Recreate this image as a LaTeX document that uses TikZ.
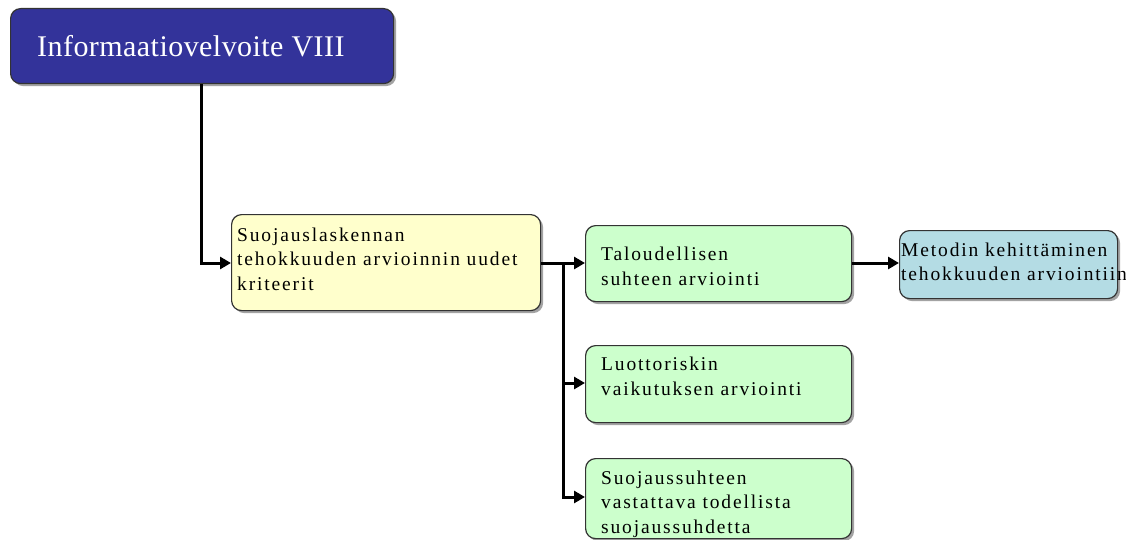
\documentclass[tikz,border=0pt]{standalone}
\usepackage{fontspec}
\setmainfont{Liberation Serif}
\newfontfamily\bodyfont[LetterSpace=9.5]{Liberation Serif}
\newfontfamily\titlefont[LetterSpace=1.5]{Liberation Serif}
\usetikzlibrary{arrows.meta,shadows}
\definecolor{navybox}{HTML}{33339A}
\definecolor{yellowbox}{HTML}{FFFFCC}
\definecolor{greenbox}{HTML}{CCFFCC}
\definecolor{tealbox}{HTML}{B4DCE4}
\tikzset{
  card/.style={draw=black!80, line width=1.2pt, rounded corners=10pt,
    drop shadow={shadow xshift=2.5pt, shadow yshift=-2.5pt, fill=black!45, opacity=0.8},
    inner sep=0pt, anchor=north west},
  % text blocks are placed by the baseline of their last line
  body/.style={font=\bodyfont\fontsize{19.5}{24.5}\selectfont, align=left, text=black,
    anchor=base west, inner sep=0pt},
  link/.style={line width=3pt, -{Triangle[length=11pt,width=12pt]}},
  bar/.style={line width=3pt}
}
\begin{document}
\begin{tikzpicture}[x=1pt,y=-1pt]
\useasboundingbox (0,0) rectangle (1126,540);
% boxes
\node[card, fill=navybox, minimum width=383pt, minimum height=75pt] (top) at (10,8) {};
\node[anchor=base west, text=white, font=\titlefont\fontsize{30}{34}\selectfont, inner sep=0pt] (toptxt) at (37,57) {Informaatiovelvoite VIII};

\node[card, fill=yellowbox, minimum width=309pt, minimum height=96pt] (crit) at (231,214) {};
\node[body] (crittxt) at (237,290) {Suojauslaskennan\\tehokkuuden arvioinnin uudet\\kriteerit};

\node[card, fill=greenbox, minimum width=266pt, minimum height=76pt] (talo) at (585,225) {};
\node[body] (talotxt) at (601,285) {Taloudellisen\\suhteen arviointi};

\node[card, fill=tealbox, minimum width=218pt, minimum height=68pt] (meto) at (899,230) {};
\node[body, font=\bodyfont\fontsize{19.5}{23.5}\selectfont] (metotxt) at (901,280) {Metodin kehittäminen\\tehokkuuden arviointiin};

\node[card, fill=greenbox, minimum width=266pt, minimum height=77pt] (luot) at (585,345) {};
\node[body] (luottxt) at (601,395) {Luottoriskin\\vaikutuksen arviointi};

\node[card, fill=greenbox, minimum width=266pt, minimum height=80pt] (suoj) at (585,458) {};
\node[body] (suojtxt) at (601,533) {Suojaussuhteen\\vastattava todellista\\suojaussuhdetta};

% connectors
\coordinate (fork) at (563,263);
\draw[link] (top.south -| 201.5,0) |- (crit.west |- fork);
\draw[bar] (crit.east |- fork) -- (fork);
\draw[link] (fork) -- (talo.west |- fork);
\draw[link] (fork) |- (luot.west |- 0,383);
\draw[link] (fork) |- (suoj.west |- 0,497);
\draw[link] (talo.east |- fork) -- (meto.west |- fork);
\end{tikzpicture}
\end{document}
